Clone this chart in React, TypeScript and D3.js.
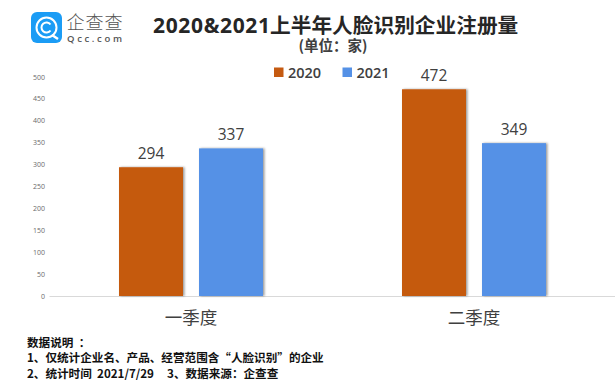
import React from "react";
import * as d3 from "d3";

const categories = ["一季度", "二季度"];
const seriesNames = ["2020", "2021"];
const values2020 = [294, 472];
const values2021 = [337, 349];
const ticks = [0, 50, 100, 150, 200, 250, 300, 350, 400, 450, 500];
const colors = ["#c55a11", "#5591e6"];
const notes = [
  "数据说明  ：",
  "1、仅统计企业名、产品、经营范围含“人脸识别”的企业",
  "2、统计时间  2021/7/29     3、数据来源：企查查",
];
const cjk = "'Noto Sans CJK SC', 'Noto Sans', sans-serif";
const latin = "'Open Sans', sans-serif";

export default function App() {
  const y = d3.scaleLinear().domain([0, 500]).range([296, 77]);
  const x0 = d3.scaleBand<string>().domain(categories).range([49.5, 615.5]);
  const x1 = d3.scaleBand<string>().domain(seriesNames).range([x0.bandwidth() / 2 - 72, x0.bandwidth() / 2 + 72]).paddingInner(0.2);
  const series = [values2020, values2021];
  return (
    <svg width={615} height={392} style={{ position: "absolute", left: 0, top: 0, background: "#fff" }}>
      <defs>
        <filter id="sh" x="-10%" y="-5%" width="125%" height="110%">
          <feDropShadow dx="1.5" dy="0" stdDeviation="0.8" floodColor="#000" floodOpacity="0.4" />
        </filter>
      </defs>
      {/* logo */}
      <rect x={31} y={12} width={31} height={31} rx={6} fill="#1b9cf5" />
      <circle cx={46.5} cy={27.5} r={10} fill="none" stroke="#fff" strokeWidth={2} />
      <path d="M50.5 24.5 A5 5 0 1 0 50.5 30.5" fill="none" stroke="#fff" strokeWidth={2} />
      <path d="M52 35 L58 39" stroke="#fff" strokeWidth={2.4} />
      <text x={66.5} y={29} fontFamily={cjk} fontSize={18} fontWeight={300} fill="#555" textLength={56}>企查查</text>
      <text x={67} y={42} fontFamily={latin} fontSize={9.5} fontWeight={600} fill="#555" textLength={55}>Qcc.com</text>
      {/* title */}
      <text x={153} y={33} fontFamily={latin} fontSize={21} fontWeight={700} fill="#262626" textLength={117}>2020&amp;2021</text>
      <text x={270} y={33} fontFamily={cjk} fontSize={20.7} fontWeight={700} fill="#262626">上半年人脸识别企业注册量</text>
      <text x={333} y={51} textAnchor="middle" fontFamily={cjk} fontSize={14.5} fontWeight={700} fill="#404040">(单位：家)</text>
      {/* legend */}
      {seriesNames.map((s, i) => (
        <g key={s}>
          <rect x={274 + i * 68.5} y={67.5} width={9.5} height={9.5} fill={colors[i]} />
          <text x={288 + i * 68.5} y={77.5} fontFamily={latin} fontSize={14.5} fontWeight={600} fill="#404040">{s}</text>
        </g>
      ))}
      {/* axis */}
      {ticks.map((t) => (
        <text key={t} x={45} y={y(t) + 2.5} textAnchor="end" fontFamily={latin} fontSize={7} fill="#6b6b6b">{t}</text>
      ))}
      <line x1={49.5} x2={615} y1={296.5} y2={296.5} stroke="#d9d9d9" strokeWidth={1} />
      {/* bars */}
      {categories.map((c, ci) => (
        <g key={c} transform={`translate(${x0(c)},0)`}>
          {seriesNames.map((s, si) => {
            const v = series[si][ci];
            const bx = x1(s)!;
            return (
              <g key={s}>
                <rect x={bx} y={y(v)} width={x1.bandwidth()} height={296 - y(v)} fill={colors[si]} filter="url(#sh)" />
                <text x={bx + x1.bandwidth() / 2} y={y(v) - 8.5} textAnchor="middle" fontFamily={latin} fontSize={15.5} fill="#404040">{v}</text>
              </g>
            );
          })}
          <text x={x0.bandwidth() / 2} y={324} textAnchor="middle" fontFamily={cjk} fontSize={17.5} fill="#404040">{c}</text>
        </g>
      ))}
      {/* notes */}
      {notes.map((n, i) => (
        <text key={i} x={27} y={346.5 + i * 15.5} fontFamily={cjk} fontSize={11.6} fontWeight={700} fill="#111" style={{ whiteSpace: "pre" }}>{n}</text>
      ))}
    </svg>
  );
}
